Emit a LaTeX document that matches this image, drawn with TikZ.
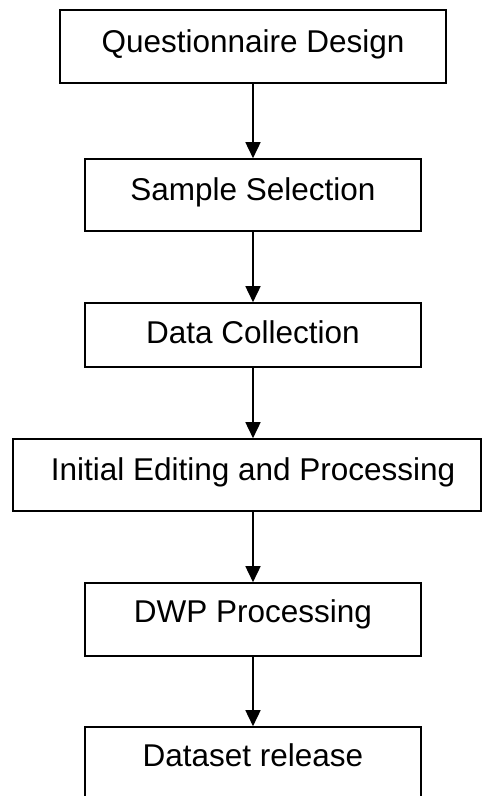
\documentclass[tikz,border=0pt]{standalone}
\usepackage{fontspec}
\setmainfont{Liberation Sans}
\usetikzlibrary{arrows.meta}
\begin{document}
\begin{tikzpicture}[x=1pt,y=-1pt,
  box/.style={draw=black, line width=1.6pt, fill=white, inner sep=0pt},
  lbl/.style={anchor=base, inner sep=0pt, font=\fontsize{31.5}{36}\selectfont},
  conn/.style={draw=black, line width=1.6pt, -{Triangle[width=15pt,length=16pt]}}]
\useasboundingbox (0,0) rectangle (483,796);
\clip (0,0) rectangle (483,796);
\fill[white] (0,0) rectangle (483,796);
% boxes
\node[box, minimum width=386pt, minimum height=73pt] (b1) at (253,46.5) {};
\node[box, minimum width=336pt, minimum height=72pt] (b2) at (253,195) {};
\node[box, minimum width=336pt, minimum height=64pt] (b3) at (253,335) {};
\node[box, minimum width=468pt, minimum height=72pt] (b4) at (247,475) {};
\node[box, minimum width=336pt, minimum height=73pt] (b5) at (253,619.5) {};
\node[box, minimum width=336pt, minimum height=100pt] (b6) at (253,777) {};
% labels
\node[lbl] (t1) at (253,52) {Questionnaire Design};
\node[lbl] (t2) at (253,200) {Sample Selection};
\node[lbl] (t3) at (253,343) {Data Collection};
\node[lbl] (t4) at (253,480) {Initial Editing and Processing};
\node[lbl] (t5) at (253,622) {DWP Processing};
\node[lbl] (t6) at (253,766) {Dataset release};
% connectors
\draw[conn] (b1.south) -- (b2.north);
\draw[conn] (b2.south) -- (b3.north);
\draw[conn] (b3.south) -- (b3.south |- b4.north);
\draw[conn] (b4.south -| b5.north) -- (b5.north);
\draw[conn] (b5.south) -- (b6.north);
\end{tikzpicture}
\end{document}
